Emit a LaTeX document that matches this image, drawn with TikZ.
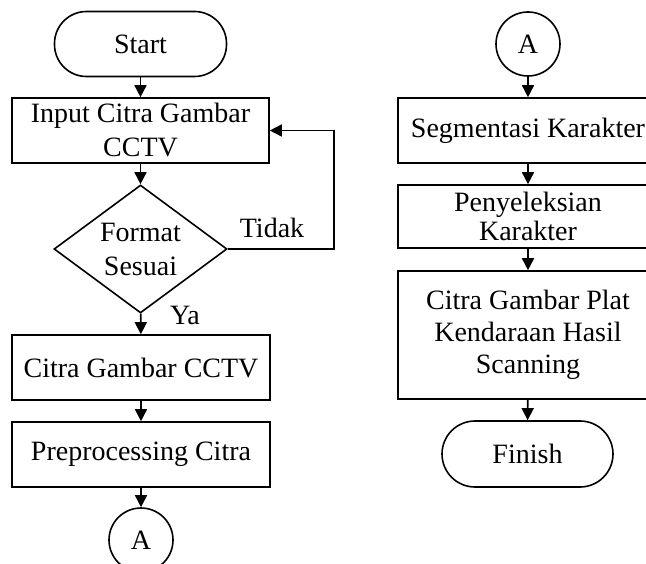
\documentclass[tikz,border=0pt]{standalone}
\usepackage{fontspec}
\setmainfont{Liberation Serif}
\usetikzlibrary{shapes.geometric,arrows.meta}
\begin{document}
\begin{tikzpicture}[x=1pt,y=-1pt,
  every node/.style={font=\fontsize{28}{32}\selectfont, align=center, inner sep=0pt},
  base/.style={draw, line width=1.6pt},
  procbox/.style={base, rectangle, minimum width=258pt, minimum height=65pt},
  termbox/.style={base, rectangle, rounded corners=32pt, minimum width=172pt, minimum height=65pt},
  decbox/.style={base, diamond, aspect=1.35, minimum width=173pt, minimum height=128pt},
  connbox/.style={base, circle, minimum size=64pt},
  flow/.style={line width=1.6pt, -{Triangle[width=12pt,length=12pt]}},
  plain/.style={line width=1.6pt}
]
\useasboundingbox (0,0) rectangle (646,564);
% left column
\node[termbox] (start) at (140.5,44) {Start};
\node[procbox, minimum width=257pt, font=\fontsize{28}{34}\selectfont] (input) at (140.5,130.5) {Input Citra Gambar\\CCTV};
\node[decbox, font=\fontsize{28}{34}\selectfont] (dec) at (140.5,249) {Format\\Sesuai};
\node[procbox] (cctv) at (141,367.5) {Citra Gambar CCTV};
\node[procbox] (pre) at (141,454.5) {Preprocessing Citra};
\node[connbox] (a1) at (141,540) {A};
\node (tidak) at (272,228) {Tidak};
\node (ya) at (185,315) {Ya};
\coordinate (loopbr) at (334,249);
\coordinate (looptr) at (334,130.5);
% right column
\node[connbox] (a2) at (528,44) {A};
\node[procbox, minimum width=260pt] (seg) at (528,130.5) {Segmentasi Karakter};
\node[procbox, minimum width=260pt, minimum height=63pt, font=\fontsize{28}{29}\selectfont] (sel) at (528,216.5) {Penyeleksian\\Karakter};
\node[procbox, minimum width=260pt, minimum height=128pt] (hasil) at (528,335) {Citra Gambar Plat\\Kendaraan Hasil\\Scanning};
\node[termbox, minimum width=171pt, minimum height=66pt, rounded corners=33pt] (finish) at (527.5,454) {Finish};
% connectors
\draw[flow] (start) -- (input);
\draw[flow] (input) -- (dec);
\draw[flow] (dec) -- (cctv);
\draw[flow] (cctv) -- (pre);
\draw[flow] (pre) -- (a1);
\draw[plain] (dec.east) -- (loopbr) -- (looptr);
\draw[flow] (looptr) -- (input.east);
\draw[flow] (a2) -- (seg);
\draw[flow] (seg) -- (sel);
\draw[flow] (sel) -- (hasil);
\draw[flow] (hasil) -- (finish);
\end{tikzpicture}
\end{document}
